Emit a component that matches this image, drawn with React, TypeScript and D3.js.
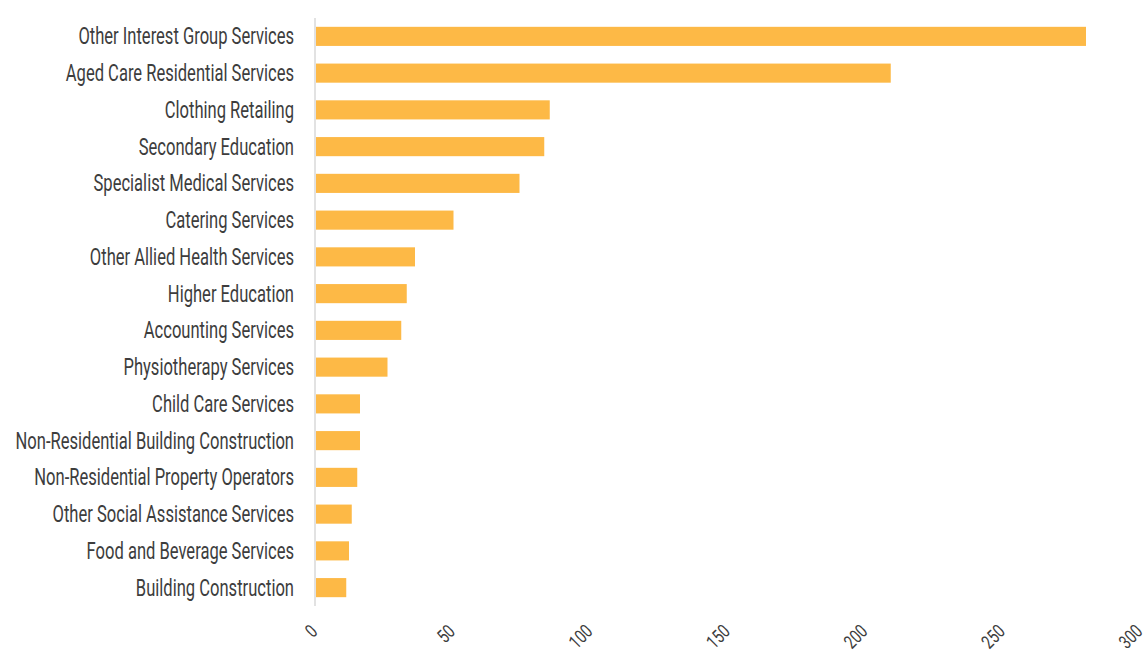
import React from "react";
import * as d3 from "d3";

const categories = [
  "Other Interest Group Services",
  "Aged Care Residential Services",
  "Clothing Retailing",
  "Secondary Education",
  "Specialist Medical Services",
  "Catering Services",
  "Other Allied Health Services",
  "Higher Education",
  "Accounting Services",
  "Physiotherapy Services",
  "Child Care Services",
  "Non-Residential Building Construction",
  "Non-Residential Property Operators",
  "Other Social Assistance Services",
  "Food and Beverage Services",
  "Building Construction",
];
const values = [280, 209, 85, 83, 74, 50, 36, 33, 31, 26, 16, 16, 15, 13, 12, 11];
const xTicks = [0, 50, 100, 150, 200, 250, 300];

const W = 1146;
const H = 653;
const FONT = "Roboto, 'Noto Sans', sans-serif";

export default function App() {
  const x = d3.scaleLinear().domain([0, 300]).range([316, 1141]);
  const y = d3
    .scaleBand<string>()
    .domain(categories)
    .range([18, 606])
    .paddingInner(0.48)
    .paddingOuter(0.24);

  return (
    <svg
      width={W}
      height={H}
      style={{ position: "absolute", left: 0, top: 0, background: "#fff" }}
      fontFamily={FONT}
    >
      <line x1={315} x2={315} y1={18} y2={606} stroke="#e2e2e2" strokeWidth={2} />
      {categories.map((c, i) => (
        <g key={c}>
          <rect
            x={x(0)}
            y={y(c)!}
            width={x(values[i]) - x(0)}
            height={y.bandwidth()}
            fill="#fdb946"
          />
          <text
            transform={`translate(294,${y(c)! + y.bandwidth() / 2}) scale(0.72,1)`}
            dy="0.35em"
            textAnchor="end"
            fontSize={23}
            fill="#3d3d3d"
          >
            {c}
          </text>
        </g>
      ))}
      {xTicks.map((t) => (
        <text
          key={t}
          transform={`translate(${x(t) - 2},${628}) rotate(-45) scale(0.75,1)`}
          dy="0.35em"
          textAnchor="end"
          fontSize={19}
          fill="#3d3d3d"
        >
          {t}
        </text>
      ))}
    </svg>
  );
}
